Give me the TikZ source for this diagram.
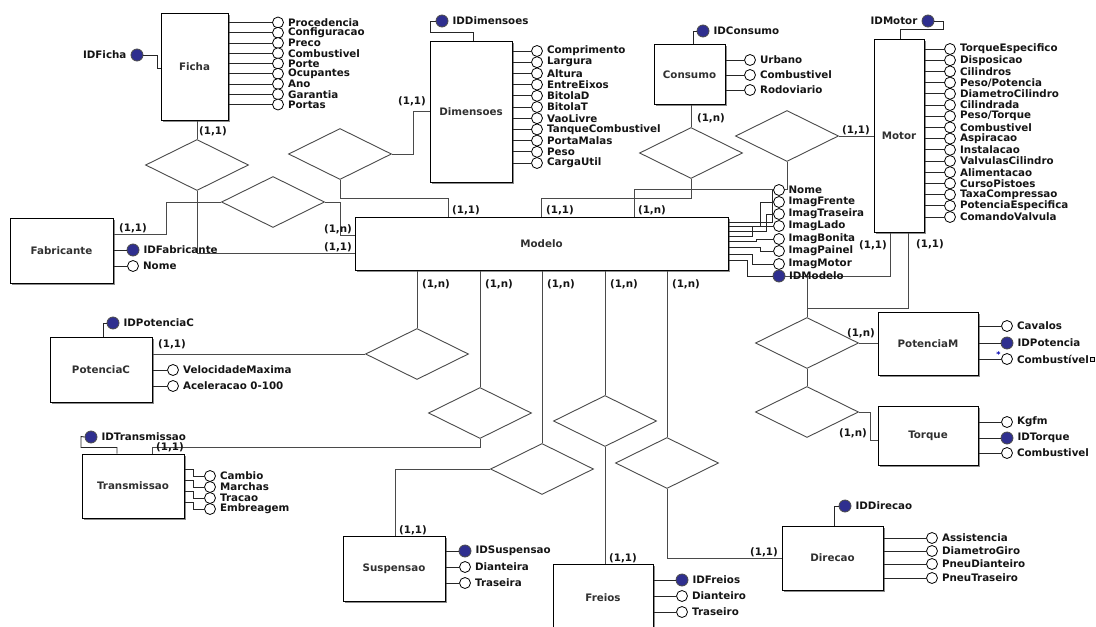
\documentclass[tikz,border=0pt]{standalone}
\usepackage{fontspec}
\setmainfont{DejaVu Sans}
\usetikzlibrary{shapes.geometric,shadows}
\definecolor{keyblue}{HTML}{2F2F8F}
\definecolor{linegray}{HTML}{4A4A4A}
\definecolor{txt}{HTML}{141414}
\definecolor{title}{HTML}{303030}
\tikzset{
  erfont/.style={font=\fontsize{10.3}{10.5}\selectfont\bfseries},
  entity/.style={draw=black, line width=1pt, fill=white, inner sep=0pt, erfont, text=title,
    general shadow={fill=black!45, shadow xshift=1.6pt, shadow yshift=-1.6pt}},
  rel/.style={diamond, draw=linegray, line width=0.9pt, fill=white, inner sep=0pt,
    minimum width=103pt, minimum height=51pt},
  att/.style={circle, draw=black, line width=0.8pt, fill=white, inner sep=0pt, minimum size=11pt},
  pkey/.style={circle, draw=black!70, line width=0.8pt, fill=keyblue, inner sep=0pt, minimum size=12pt},
  lbl/.style={erfont, text=txt, inner sep=0pt, anchor=west},
  card/.style={erfont, text=txt, inner sep=0pt},
  link/.style={draw=linegray, line width=0.9pt},
  attline/.style={draw=black!85, line width=0.9pt},
}
\begin{document}
\begin{tikzpicture}[x=1pt,y=-1pt]
\useasboundingbox (0,0) rectangle (1096,627);
\clip (0,0) rectangle (1096,627);
\fill[white] (0,0) rectangle (1096,627);

% ---------- entities ----------
\node[entity, minimum width=67pt,  minimum height=107pt] (Ficha)       at (194.5,66.5)  {Ficha};
\node[entity, minimum width=82pt,  minimum height=141pt] (Dimensoes)   at (471,111.5)   {Dimensoes};
\node[entity, minimum width=71pt,  minimum height=60pt]  (Consumo)     at (689.5,74.5)  {Consumo};
\node[entity, minimum width=50pt,  minimum height=193pt] (Motor)       at (899,135.5)   {Motor};
\node[entity, minimum width=103pt, minimum height=65pt]  (Fabricante)  at (61.5,250.5)  {Fabricante};
\node[entity, minimum width=373pt, minimum height=53pt]  (Modelo)      at (541.5,243.5) {Modelo};
\node[entity, minimum width=100pt, minimum height=63pt]  (PotenciaM)   at (928,343.5)   {PotenciaM};
\node[entity, minimum width=100pt, minimum height=59pt]  (Torque)      at (928,435.5)   {Torque};
\node[entity, minimum width=102pt, minimum height=65pt]  (PotenciaC)   at (101,369.5)   {PotenciaC};
\node[entity, minimum width=102pt, minimum height=64pt]  (Transmissao) at (133,486)     {Transmissao};
\node[entity, minimum width=102pt, minimum height=65pt]  (Suspensao)   at (394,568.5)   {Suspensao};
\node[entity, minimum width=100pt, minimum height=68pt]  (Freios)      at (603,598)     {Freios};
\node[entity, minimum width=101pt, minimum height=64pt]  (Direcao)     at (832.5,558)   {Direcao};

% ---------- relationships ----------
\node[rel] (dFicha)  at (197,165) {};
\node[rel] (dFab)    at (273,202) {};
\node[rel] (dDim)    at (340,154) {};
\node[rel] (dCons)   at (691,153) {};
\node[rel] (dMotor)  at (787,136) {};
\node[rel] (dPotC)   at (417,354) {};
\node[rel] (dTrans)  at (480,413) {};
\node[rel] (dSusp)   at (542,469) {};
\node[rel] (dFreios) at (605,421) {};
\node[rel] (dDir)    at (667,463) {};
\node[rel] (dPotM)   at (807,343) {};
\node[rel] (dTorque) at (807,412) {};

% ---------- relationship links ----------
\draw[link] (dFicha.north) -- (dFicha.north |- Ficha.south);
\draw[link] (dFicha.south) |- ([yshift=-9.5pt]Modelo.west);
\draw[link] (dFab.west) -- ++(-55,0) |- ([yshift=16.5pt]Fabricante.east);
\draw[link] (dFab.east) -- ++(15,0) |- ([yshift=8.5pt]Modelo.west);
\draw[link] (dDim.east) -- ++(21,0) |- (Dimensoes.west);
\draw[link] (dDim.south) -- ++(0,18) -| ([xshift=-93.5pt]Modelo.north);
\draw[link] (dCons.north) -- (dCons.north |- Consumo.south);
\draw[link] (dCons.south) -- ++(0,19) -| (Modelo.north);
\draw[link] (dMotor.east) -- (Motor.west |- dMotor.east);
\draw[link] (dMotor.south) -- ++(0,27) -| ([xshift=92.5pt]Modelo.north);
\draw[link] (dPotC.north) -- (dPotC.north |- Modelo.south);
\draw[link] (dTrans.north) -- (dTrans.north |- Modelo.south);
\draw[link] (dSusp.north) -- (dSusp.north |- Modelo.south);
\draw[link] (dFreios.north) -- (dFreios.north |- Modelo.south);
\draw[link] (dDir.north) -- (dDir.north |- Modelo.south);
\draw[link] (dPotC.west) -- (PotenciaC.east |- dPotC.west);
\draw[link] (dTrans.south) -- ++(0,8) -| ([xshift=19pt]Transmissao.north);
\draw[link] (dSusp.west) -| ([xshift=1pt]Suspensao.north);
\draw[link] (dFreios.south) -- (dFreios.south |- Freios.north);
\draw[link] (dDir.south) |- (Direcao.west);
\draw[link] (dPotM.east) -- (PotenciaM.west |- dPotM.east);
\draw[link] ([yshift=9pt]dPotM.north) -| ([xshift=9pt]Motor.south);
\draw[link] (dPotM.south) -- (dTorque.north);
\draw[link] (dTorque.east) -- ++(11,0) |- ([yshift=-4.5pt]Torque.west);

% ---------- cardinalities ----------
\node[card] (c1)  at (213,131) {(1,1)};
\node[card] (c2)  at (133,228) {(1,1)};
\node[card] (c3)  at (338,229) {(1,n)};
\node[card] (c4)  at (338,247) {(1,1)};
\node[card] (c5)  at (412,101) {(1,1)};
\node[card] (c6)  at (466,210) {(1,1)};
\node[card] (c7)  at (560,210) {(1,1)};
\node[card] (c8)  at (652,210) {(1,n)};
\node[card] (c9)  at (711,118) {(1,n)};
\node[card] (c10) at (856,130) {(1,1)};
\node[card] (c11) at (873,245) {(1,1)};
\node[card] (c12) at (930,244) {(1,1)};
\node[card] (c13) at (861,333) {(1,n)};
\node[card] (c14) at (853,433) {(1,n)};
\node[card] (c15) at (436,284) {(1,n)};
\node[card] (c16) at (499,284) {(1,n)};
\node[card] (c17) at (561,284) {(1,n)};
\node[card] (c18) at (624,284) {(1,n)};
\node[card] (c19) at (686,284) {(1,n)};
\node[card] (c20) at (172,344) {(1,1)};
\node[card] (c21) at (170,447) {(1,1)};
\node[card] (c22) at (413,530) {(1,1)};
\node[card] (c23) at (623,558) {(1,1)};
\node[card] (c24) at (764,552) {(1,1)};

% ---------- Ficha ----------
\node[pkey] (kFicha) at (137,55) {};
\node[lbl, anchor=east] (lkFicha) at ([xshift=-4pt]kFicha.west) {IDFicha};
\draw[attline] (kFicha.east) -- ++(14,0) |- ([yshift=-1.5pt]Ficha.west);
\foreach \t [count=\i from 0] in {Procedencia,Configuracao,Preco,Combustivel,Porte,Ocupantes,Ano,Garantia,Portas}{
  \node[att] (fa\i) at (278,22.5+10.25*\i) {};
  \draw[attline] (Ficha.east |- fa\i) -- (fa\i);
  \node[lbl] (fl\i) at ([xshift=4pt]fa\i.east) {\t};
}

% ---------- Dimensoes ----------
\node[pkey] (kDim) at (442,21) {};
\node[lbl] (lkDim) at ([xshift=4pt]kDim.east) {IDDimensoes};
\draw[attline] (kDim.west) -| ++(-5,11) -| ([xshift=2pt]Dimensoes.north);
\foreach \t [count=\i from 0] in {Comprimento,Largura,Altura,EntreEixos,BitolaD,BitolaT,VaoLivre,TanqueCombustivel,PortaMalas,Peso,CargaUtil}{
  \node[att] (da\i) at (537,51+11.2*\i) {};
  \draw[attline] (Dimensoes.east |- da\i) -- (da\i);
  \node[lbl] (dl\i) at ([xshift=4pt]da\i.east) {\t};
}

% ---------- Consumo ----------
\node[pkey] (kCons) at (703,31) {};
\node[lbl] (lkCons) at ([xshift=4pt]kCons.east) {IDConsumo};
\draw[attline] (kCons.west) -| ([xshift=3.5pt]Consumo.north);
\foreach \t [count=\i from 0] in {Urbano,Combustivel,Rodoviario}{
  \node[att] (ca\i) at (750,60+15*\i) {};
  \draw[attline] (Consumo.east |- ca\i) -- (ca\i);
  \node[lbl] (cl\i) at ([xshift=4pt]ca\i.east) {\t};
}

% ---------- Motor ----------
\node[pkey] (kMotor) at (928,21) {};
\node[lbl, anchor=east] (lkMotor) at ([xshift=-4pt]kMotor.west) {IDMotor};
\draw[attline] (kMotor.east) -- ++(9,0) -- ++(0,8) -| ([xshift=1pt]Motor.north);
\foreach \t [count=\i from 0] in {TorqueEspecifico,Disposicao,Cilindros,Peso/Potencia,DiametroCilindro,Cilindrada,Peso/Torque,Combustivel,Aspiracao,Instalacao,ValvulasCilindro,Alimentacao,CursoPistoes,TaxaCompressao,PotenciaEspecifica,ComandoValvula}{
  \node[att] (oa\i) at (950,49+11.2*\i) {};
  \draw[attline] (Motor.east |- oa\i) -- (oa\i);
  \node[lbl] (ol\i) at ([xshift=4pt]oa\i.east) {\t};
}

% ---------- Fabricante ----------
\node[pkey] (kFab) at (133,250) {};
\node[lbl] (lkFab) at ([xshift=4pt]kFab.east) {IDFabricante};
\draw[attline] (Fabricante.east |- kFab) -- (kFab);
\node[att] (fbNome) at (133,266) {};
\node[lbl] (lfbNome) at ([xshift=4pt]fbNome.east) {Nome};
\draw[attline] (Fabricante.east |- fbNome) -- (fbNome);

% ---------- Modelo ----------
\foreach \t/\cy/\sy/\jx [count=\i] in {Nome/190/222/772,ImagFrente/202/226/760,ImagTraseira/214/231/766,ImagLado/226/236/752,ImagBonita/239/241/756,ImagPainel/251/247/760,ImagMotor/264/254/752}{
  \node[att] (ma\i) at (779,\cy) {};
  \draw[attline] (Modelo.east |- 0,\sy) -| (\jx,\cy) -- (ma\i);
  \node[lbl] (ml\i) at ([xshift=3.5pt]ma\i.east) {\t};
}
\node[pkey] (kModelo) at (779,276) {};
\draw[attline] (Modelo.east |- 0,260) -| (747,276) -- (kModelo);
\draw[link] (kModelo.east) -| ([xshift=-9pt]Motor.south);
\draw[link] (dPotM.north) -- (dPotM.north |- kModelo);
\node[lbl] (lkModelo) at ([xshift=3.5pt]kModelo.east) {IDModelo};

% ---------- PotenciaM ----------
\node[att] (pmCav) at (1007,326) {};
\node[pkey] (kPotM) at (1007,343) {};
\node[att] (pmComb) at (1007,359) {};
\draw[attline] (PotenciaM.east |- pmCav) -- (pmCav);
\draw[attline] (PotenciaM.east |- kPotM) -- (kPotM);
\draw[attline] (PotenciaM.east |- pmComb) -- (pmComb);
\node[lbl] (lpmCav) at ([xshift=4pt]pmCav.east) {Cavalos};
\node[lbl] (lkPotM) at ([xshift=4pt]kPotM.east) {IDPotencia};
\node[lbl] (lpmComb) at ([xshift=4pt]pmComb.east) {Combustível};
\node[inner sep=0pt, text=blue!70!black, font=\fontsize{8}{8}\selectfont\bfseries] (ast) at (998.5,355) {*};
\node[draw=black, fill=gray!25, line width=0.6pt, inner sep=0pt, minimum size=4pt] (mark) at ([xshift=3pt]lpmComb.east) {};

% ---------- Torque ----------
\node[att] (tqKg) at (1007,422) {};
\node[pkey] (kTq) at (1007,438) {};
\node[att] (tqComb) at (1007,453) {};
\draw[attline] (Torque.east |- tqKg) -- (tqKg);
\draw[attline] (Torque.east |- kTq) -- (kTq);
\draw[attline] (Torque.east |- tqComb) -- (tqComb);
\node[lbl] (ltqKg) at ([xshift=4pt]tqKg.east) {Kgfm};
\node[lbl] (lkTq) at ([xshift=4pt]kTq.east) {IDTorque};
\node[lbl] (ltqComb) at ([xshift=4pt]tqComb.east) {Combustivel};

% ---------- PotenciaC ----------
\node[pkey] (kPotC) at (113,323) {};
\node[lbl] (lkPotC) at ([xshift=4pt]kPotC.east) {IDPotenciaC};
\draw[attline] ([xshift=2pt]PotenciaC.north) |- (kPotC.west);
\node[att] (pcVel) at (173,370) {};
\node[att] (pcAce) at (173,386) {};
\draw[attline] (PotenciaC.east |- pcVel) -- (pcVel);
\draw[attline] (PotenciaC.east |- pcAce) -- (pcAce);
\node[lbl] (lpcVel) at ([xshift=4pt]pcVel.east) {VelocidadeMaxima};
\node[lbl] (lpcAce) at ([xshift=4pt]pcAce.east) {Aceleracao 0-100};

% ---------- Transmissao ----------
\node[pkey] (kTrans) at (91,437) {};
\node[lbl] (lkTrans) at ([xshift=4pt]kTrans.east) {IDTransmissao};
\draw[attline] ([xshift=-16pt]Transmissao.north) -- ++(0,-6) -| ++(-36,-11) -- (kTrans.west);
\foreach \t [count=\i from 0] in {Cambio,Marchas,Tracao,Embreagem}{
  \node[att] (ta\i) at (210,476+11*\i) {};
  \draw[attline] (Transmissao.east |- 0,469+11*\i) -- ++(9,0) |- (ta\i);
  \node[lbl] (tl\i) at ([xshift=4pt]ta\i.east) {\t};
}

% ---------- Suspensao ----------
\node[pkey] (kSusp) at (465,551) {};
\node[att] (suD) at (465,567) {};
\node[att] (suT) at (465,583) {};
\draw[attline] (Suspensao.east |- kSusp) -- (kSusp);
\draw[attline] (Suspensao.east |- suD) -- (suD);
\draw[attline] (Suspensao.east |- suT) -- (suT);
\node[lbl] (lkSusp) at ([xshift=4pt]kSusp.east) {IDSuspensao};
\node[lbl] (lsuD) at ([xshift=4pt]suD.east) {Dianteira};
\node[lbl] (lsuT) at ([xshift=4pt]suT.east) {Traseira};

% ---------- Freios ----------
\node[pkey] (kFr) at (682,580) {};
\node[att] (frD) at (682,596) {};
\node[att] (frT) at (682,612) {};
\draw[attline] (Freios.east |- kFr) -- (kFr);
\draw[attline] (Freios.east |- frD) -- (frD);
\draw[attline] (Freios.east |- frT) -- (frT);
\node[lbl] (lkFr) at ([xshift=4pt]kFr.east) {IDFreios};
\node[lbl] (lfrD) at ([xshift=4pt]frD.east) {Dianteiro};
\node[lbl] (lfrT) at ([xshift=4pt]frT.east) {Traseiro};

% ---------- Direcao ----------
\node[pkey] (kDir) at (845,506) {};
\node[lbl] (lkDir) at ([xshift=4pt]kDir.east) {IDDirecao};
\draw[attline] ([xshift=1.5pt]Direcao.north) |- (kDir.west);
\foreach \t/\cy [count=\i] in {Assistencia/538,DiametroGiro/551,PneuDianteiro/564,PneuTraseiro/578}{
  \node[att] (ra\i) at (932,\cy) {};
  \draw[attline] (Direcao.east |- ra\i) -- (ra\i);
  \node[lbl] (rl\i) at ([xshift=4pt]ra\i.east) {\t};
}
\end{tikzpicture}
\end{document}
